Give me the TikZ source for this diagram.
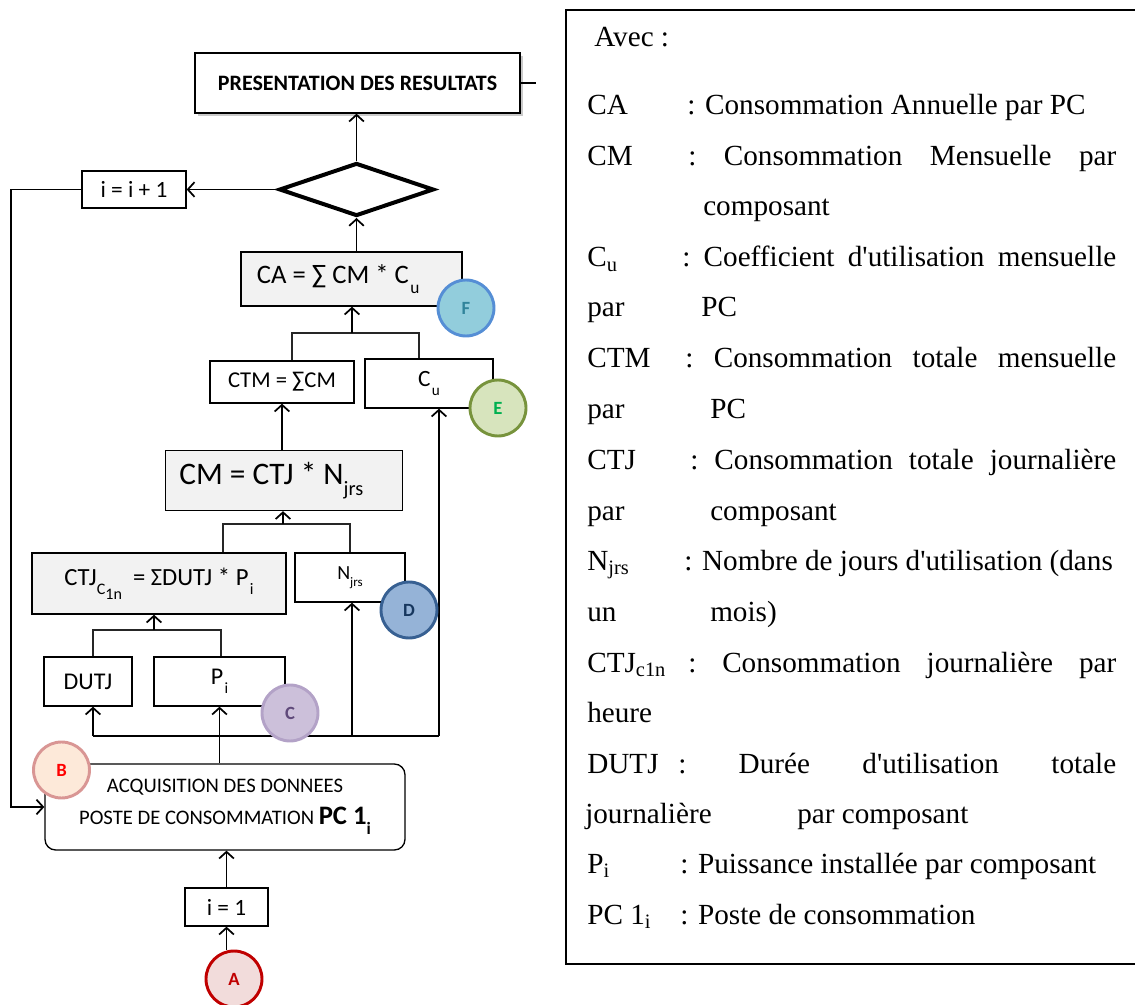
\documentclass[tikz,border=0pt]{standalone}
\usepackage{fontspec}
\setmainfont{Liberation Serif}[Ligatures=TeXOff]
\newfontfamily\carl{Carlito}
\usetikzlibrary{arrows.meta,shapes.geometric,shadows}
\definecolor{cAf}{HTML}{F2DCDB}\definecolor{cAd}{HTML}{C00000}
\definecolor{cBf}{HTML}{FDE9D9}\definecolor{cBd}{HTML}{D99694}\definecolor{cBt}{HTML}{FF0000}
\definecolor{cCf}{HTML}{CCC0DA}\definecolor{cCd}{HTML}{B3A2C7}\definecolor{cCt}{HTML}{5F497A}
\definecolor{cDf}{HTML}{95B3D7}\definecolor{cDd}{HTML}{376092}\definecolor{cDt}{HTML}{17375E}
\definecolor{cEf}{HTML}{D7E4BD}\definecolor{cEd}{HTML}{77933C}\definecolor{cEt}{HTML}{00B050}
\definecolor{cFf}{HTML}{92CDDC}\definecolor{cFd}{HTML}{558ED5}\definecolor{cFt}{HTML}{31849B}
\definecolor{boxgray}{HTML}{F2F2F2}
\newcommand\lo[1]{\raisebox{-0.36em}{\scalebox{0.65}{#1}}}
\begin{document}
\begin{tikzpicture}[x=0.75pt,y=-0.75pt,
  box/.style={draw, line width=1pt, inner sep=0pt, fill=white, font=\carl},
  gbox/.style={box, fill=boxgray},
  conn/.style={line width=1.3pt, -{Straight Barb[length=5pt,width=11pt]}},
  plain/.style={line width=1.3pt},
  brk/.style={line width=0.8pt, draw=black!85},
  circ/.style={circle, minimum size=42pt, inner sep=0pt, line width=2.2pt, font=\carl\bfseries\fontsize{14}{14}\selectfont},
  leg/.style={anchor=base west, inner sep=0pt, font=\fontsize{21.9}{24}\selectfont},
  f/.style={font=\carl\fontsize{#1}{#1}\selectfont},
]
\useasboundingbox (0,0) rectangle (1135,1005);

% ---------------- flowchart boxes
\node[box, minimum width=243.75pt, minimum height=45pt, drop shadow={shadow xshift=2pt, shadow yshift=-2pt, opacity=0.35, fill=black!60},
      font=\carl\bfseries\fontsize{16.5}{18}\selectfont] (pres) at (357.5,83) {PRESENTATION DES RESULTATS};
\node[diamond, draw, line width=3pt, minimum width=116pt, minimum height=39.75pt, inner sep=0pt] (dia) at (356.5,189.5) {};
\node[box, f=17.5, minimum width=78pt, minimum height=27.75pt] (inc) at (134,189.5) {i = i + 1};
\node[gbox, f=20, minimum width=165.75pt, minimum height=40.5pt] (ca) at (351.5,279) {CA = ∑ CM * C\kern1pt\lo{u}\hspace*{20pt}};
\node[box, f=17, minimum width=108pt, minimum height=31.5pt] (ctm) at (282,382) {CTM = ∑CM};
\node[box, f=17.5, minimum width=96pt, minimum height=36.75pt] (cu) at (429,383.5) {C\kern1pt\lo{u}};
\node[gbox, f=23.5, minimum width=177.75pt, minimum height=45pt] (cm) at (284,480.5) {CM = CTJ * N\lo{jrs}\hspace*{19pt}};
\node[gbox, f=18.5, minimum width=190.5pt, minimum height=45.75pt] (ctj) at (159,583.5) {CTJ\lo{C\raisebox{-0.3em}{1n}}\ \ = ΣDUTJ * P\kern1pt\lo{i}};
\node[box, f=15, minimum width=82.5pt, minimum height=36.75pt] (njrs) at (350,577.5) {N\lo{jrs}};
\node[box, f=18, minimum width=66pt, minimum height=36.75pt] (dutj) at (88,681.5) {DUTJ};
\node[box, f=18, minimum width=98.25pt, minimum height=36.75pt] (pi) at (219.5,681.5) {P\kern1pt\lo{i}};
\node[box, rounded corners=8pt, minimum width=270pt, minimum height=64.5pt, align=center,
      font=\carl\fontsize{15.5}{24}\selectfont] (acq) at (225,807)
      {ACQUISITION DES DONNEES\\POSTE DE CONSOMMATION {\bfseries\fontsize{20}{20}\selectfont PC 1\lo{i}}};
\node[box, f=17.5, minimum width=62.25pt, minimum height=28.5pt] (i1) at (226.5,907) {i = 1};

% ---------------- connectors
\coordinate (d1) at (93,736); \coordinate (d2) at (352,736); \coordinate (d3) at (439,736);
\coordinate (b1) at (93,630); \coordinate (b2) at (221,630); \coordinate (b3) at (154,630);
\coordinate (c1) at (223,524); \coordinate (c2) at (350,524); \coordinate (c3) at (283,524);
\coordinate (e1) at (292,333); \coordinate (e2) at (419,333); \coordinate (e3) at (352,333);
\coordinate (lp) at (11,189.5);
\coordinate (st) at (536,83);

\draw[conn] (i1.north) -- (i1.north |- acq.south);
\draw[conn] (pi.south |- acq.north) -- (pi.south);
\draw[plain] (d1) -- (d3);
\draw[conn] (d1) -- (d1 |- dutj.south);
\draw[conn] (d2) -- (d2 |- njrs.south);
\draw[conn] (d3) -- (d3 |- cu.south);
\draw[brk] (b1 |- dutj.north) -- (b1) -- (b2) -- (b2 |- pi.north);
\draw[conn] (b3) -- (b3 |- ctj.south);
\draw[brk] (c1 |- ctj.north) -- (c1) -- (c2) -- (c2 |- njrs.north);
\draw[conn] (c3) -- (c3 |- cm.south);
\draw[conn] (cm.north -| ctm.south) -- (ctm.south);
\draw[brk] (e1 |- ctm.north) -- (e1) -- (e2) -- (e2 |- cu.north);
\draw[conn] (e3) -- (e3 |- ca.south);
\draw[conn] (ca.north -| dia.south) -- (dia.south);
\draw[conn] (dia.north) -- (dia.north |- pres.south);
\draw[conn] (dia.west) -- (inc.east);
\draw[conn] (inc.west) -- (lp) |- (acq.west);
\draw[line width=1pt] (pres.east) -- (st);

% ---------------- circles
\node[circ, fill=cAf, draw=cAd, text=cAd] (A) at (234,979) {A};
\draw[conn] (A.north -| i1.south) -- (i1.south);
\node[circ, fill=cBf, draw=cBd, text=cBt] (B) at (61.5,770) {B};
\node[circ, fill=cCf, draw=cCd, text=cCt] (C) at (290,713) {C};
\node[circ, fill=cDf, draw=cDd, text=cDt] (D) at (409,610) {D};
\node[circ, fill=cEf, draw=cEd, text=cEt] (E) at (498,408) {E};
\node[circ, fill=cFf, draw=cFd, text=cFt] (F) at (466,308) {F};

% ---------------- legend
\coordinate (g1) at (1135,10); \coordinate (g2) at (566,10);
\coordinate (g3) at (566,964); \coordinate (g4) at (1135,964);
\draw[line width=1.5pt] (g1) -- (g2) -- (g3) -- (g4);

\node[leg] (l0) at (594,47) {Avec :};
\node[leg] (l1a) at (587,115) {CA};
\node[leg] (l1b) at (687,115) {: Consommation Annuelle par PC};
\node[leg] (l2a) at (587,166) {CM};
\node[leg] (l2b) at (688,166) {\hbox to 321pt{:\hfill Consommation\hfill Mensuelle\hfill par}};
\node[leg] (l3) at (703,216) {composant};
\node[leg] (l4a) at (587,267) {C\textsubscript{u}};
\node[leg] (l4b) at (682,267) {\hbox to 325.5pt{:\hfill Coefficient\hfill d'utilisation\hfill mensuelle}};
\node[leg] (l5a) at (587,317) {par};
\node[leg] (l5b) at (701,317) {PC};
\node[leg] (l6a) at (587,368) {CTM};
\node[leg] (l6b) at (685,368) {\hbox to 323.25pt{:\hfill Consommation\hfill totale\hfill mensuelle}};
\node[leg] (l7a) at (587,419) {par};
\node[leg] (l7b) at (710,419) {PC};
\node[leg] (l8a) at (587,469) {CTJ};
\node[leg] (l8b) at (690,469) {\hbox to 319.5pt{:\hfill Consommation\hfill totale\hfill journalière}};
\node[leg] (l9a) at (587,520) {par};
\node[leg] (l9b) at (710,520) {composant};
\node[leg] (l10a) at (587,570) {N\textsubscript{jrs}};
\node[leg] (l10b) at (684,570) {: Nombre de jours d'utilisation (dans};
\node[leg] (l11a) at (587,621) {un};
\node[leg] (l11b) at (710,621) {mois)};
\node[leg] (l12a) at (587,672) {CTJ\textsubscript{c1n}};
\node[leg] (l12b) at (688,672) {\hbox to 321pt{:\hfill Consommation\hfill journalière\hfill par}};
\node[leg] (l13) at (587,722) {heure};
\node[leg] (l14a) at (587,773) {DUTJ};
\node[leg] (l14b) at (678,773) {\hbox to 328.5pt{:\hfill Durée\hfill d'utilisation\hfill totale}};
\node[leg] (l15a) at (585,823) {journalière};
\node[leg] (l15b) at (797,823) {par composant};
\node[leg] (l16a) at (587,873) {P\textsubscript{i}};
\node[leg] (l16b) at (680,873) {: Puissance installée par composant};
\node[leg] (l17a) at (587,924) {PC 1\textsubscript{i}};
\node[leg] (l17b) at (680,924) {: Poste de consommation};
\end{tikzpicture}
\end{document}
